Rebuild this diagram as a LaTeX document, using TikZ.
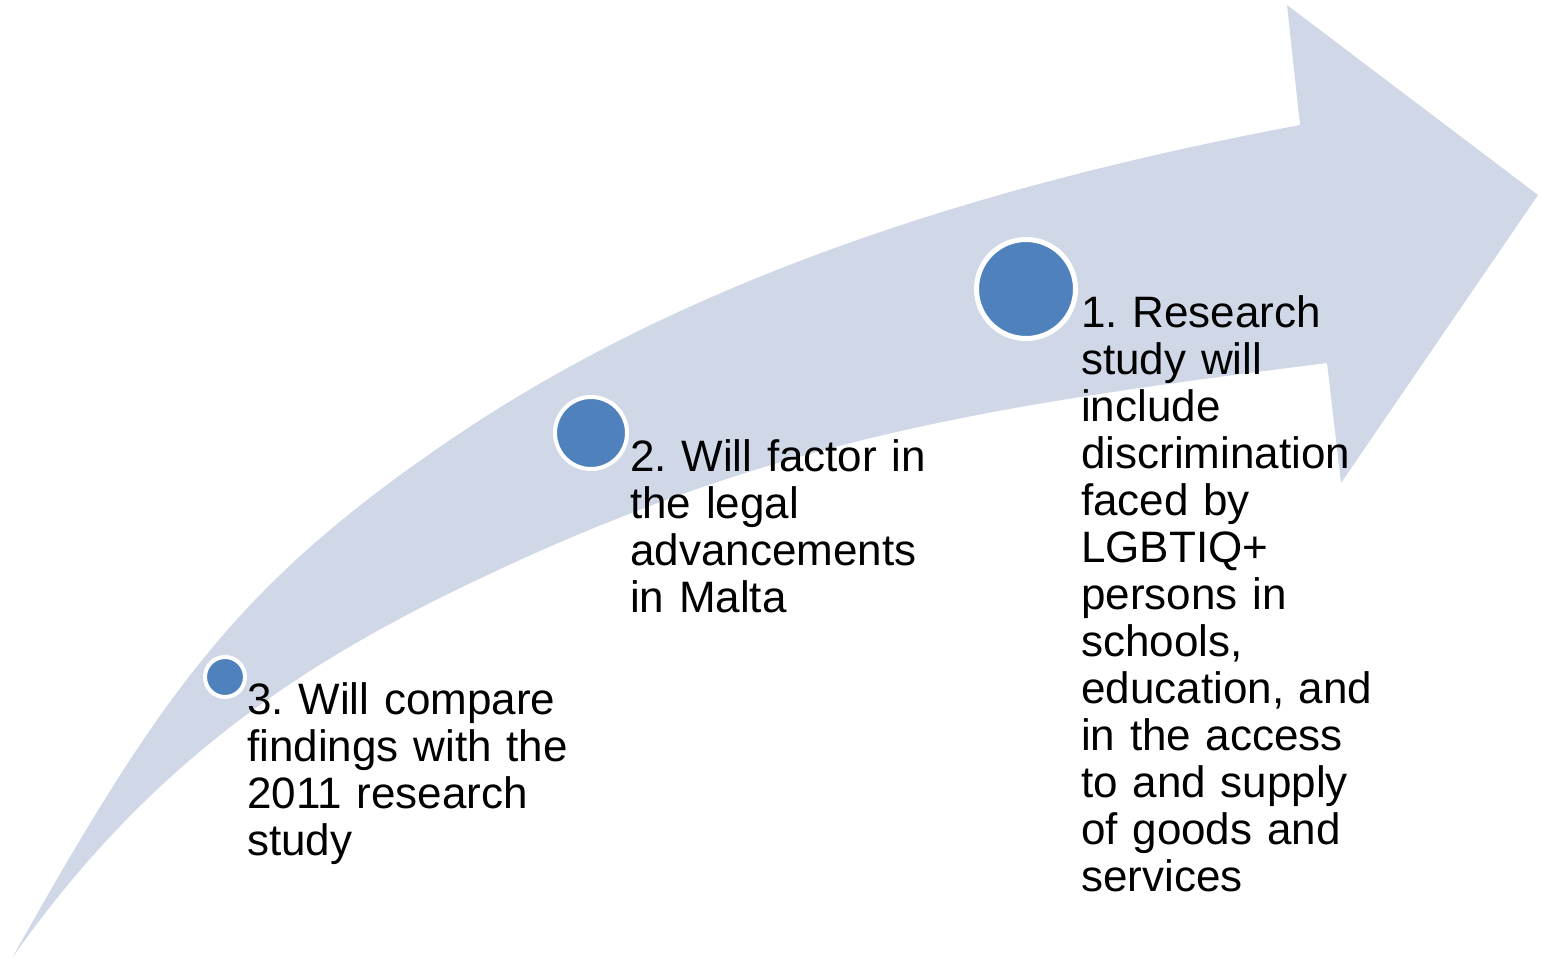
\documentclass[tikz,border=0pt]{standalone}
\usepackage{fontspec}
\setmainfont{Liberation Sans}
\frenchspacing
\definecolor{arrowfill}{HTML}{D0D8E8}
\definecolor{dotblue}{HTML}{4F81BD}
\begin{document}
\begin{tikzpicture}[x=1pt,y=-1pt,
  dot/.style={circle,fill=dotblue,draw=white,inner sep=0pt},
  label/.style={anchor=base west,inner sep=0pt,align=left,text width=#1,
    font=\fontsize{44}{47}\selectfont}]
\useasboundingbox (0,0) rectangle (1549,961);
% curved arrow
\fill[arrowfill]
  (12,958) .. controls (159,697) and (235,586) .. (450,440)
  .. controls (698,271) and (1005,180.5) .. (1300,125)
  -- (1287,5) -- (1538,195) -- (1341,483) -- (1327,363)
  .. controls (980,407) and (764,439) .. (450,593)
  .. controls (279,677) and (139,778) .. (12,958)
  -- cycle;
% circles
\node[dot,line width=4pt,minimum size=40pt] (c3) at (225,677) {};
\node[dot,line width=4pt,minimum size=72pt] (c2) at (591,433) {};
\node[dot,line width=5pt,minimum size=99pt] (c1) at (1026,289) {};
% texts
\node[label=340pt] (t3) at (247,714) {3. Will compare\\findings with the\\2011 research\\study};
\node[label=330pt] (t2) at (630,471) {2. Will factor in\\the legal\\advancements\\in Malta};
\node[label=330pt] (t1) at (1081,327) {1. Research\\study will\\include\\discrimination\\faced by\\LGBTIQ+\\persons in\\schools,\\education, and\\in the access\\to and supply\\of goods and\\services};
\end{tikzpicture}
\end{document}
